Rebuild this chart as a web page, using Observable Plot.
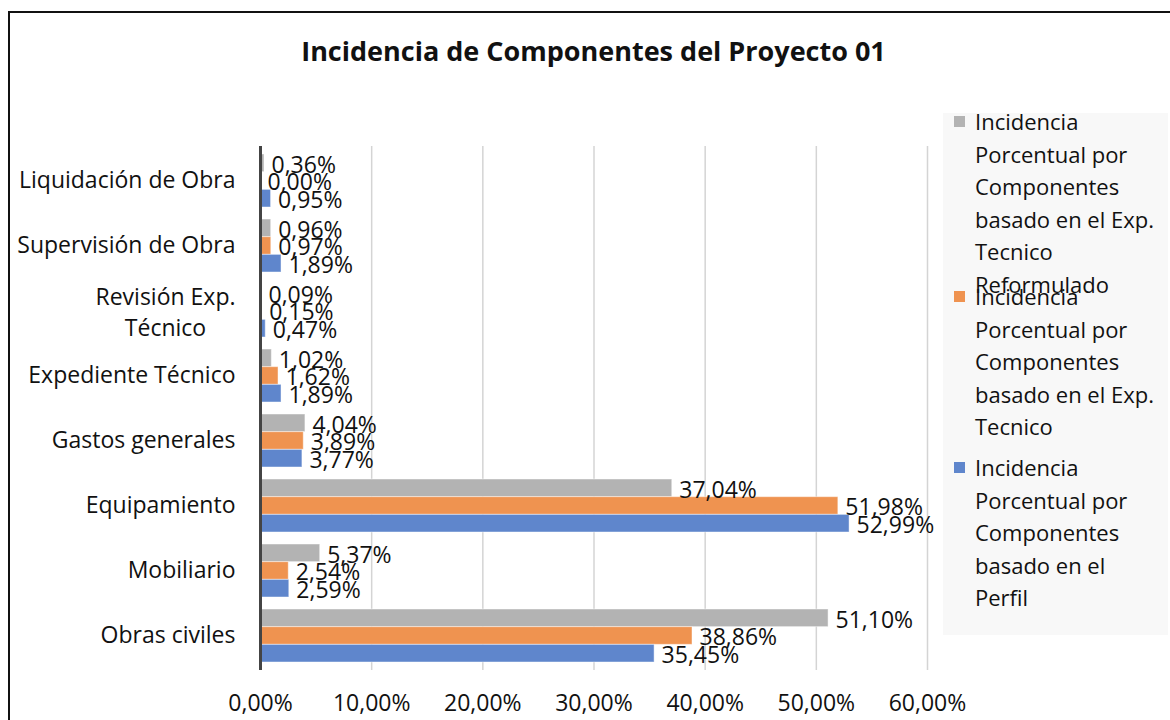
<!DOCTYPE html>
<html>
<head>
<meta charset="utf-8">
<script src="https://cdn.jsdelivr.net/npm/d3@7"></script>
<script src="https://cdn.jsdelivr.net/npm/@observablehq/plot@0.6"></script>
<style>
  html, body { margin: 0; padding: 0; background: #fff; }
  body { width: 1170px; height: 720px; position: relative; overflow: hidden; font-family: "Open Sans", sans-serif; }
  #frame { position: absolute; left: 8px; top: 11px; width: 1300px; height: 900px; border-left: 2px solid #111; border-top: 2px solid #111; }
  #title { position: absolute; left: 260px; width: 667px; top: 32px; text-align: center; font-weight: bold; font-size: 27px; color: #111; white-space: nowrap; }
  #chart { position: absolute; left: 0; top: 0; }
  #legend { position: absolute; left: 943px; top: 113px; width: 225px; height: 522px; background: #f8f8f8; }
  .item { position: absolute; left: 0; width: 225px; font-size: 22px; line-height: 32.5px; color: #111; }
  .sw { position: absolute; left: 11px; top: 11px; width: 11px; height: 11px; }
  .txt { position: absolute; left: 32px; width: 186px; }
</style>
</head>
<body>
<div id="frame"></div>
<div id="title">Incidencia de Componentes del Proyecto 01</div>
<div id="chart"></div>
<div id="legend"></div>
<script>
const categories = ["Liquidación de Obra", "Supervisión de Obra", "Revisión Exp.\nTécnico", "Expediente Técnico", "Gastos generales", "Equipamiento", "Mobiliario", "Obras civiles"];
const seriesNames = [
  "Incidencia Porcentual por Componentes basado en el Exp. Tecnico Reformulado",
  "Incidencia Porcentual por Componentes basado en el Exp. Tecnico",
  "Incidencia Porcentual por Componentes basado en el Perfil"
];
const seriesColors = ["#b3b3b3", "#ef9350", "#5f86cc"];
const reformulado = [0.0036, 0.0096, 0.0009, 0.0102, 0.0404, 0.3704, 0.0537, 0.5110];
const expTecnico  = [0.0000, 0.0097, 0.0015, 0.0162, 0.0389, 0.5198, 0.0254, 0.3886];
const perfil      = [0.0095, 0.0189, 0.0047, 0.0189, 0.0377, 0.5299, 0.0259, 0.3545];
const xTicks = [0, 0.1, 0.2, 0.3, 0.4, 0.5, 0.6];

const fmt = v => (v * 100).toFixed(2).replace(".", ",") + "%";
const seriesValues = [reformulado, expTecnico, perfil];
const tables = seriesValues.map((vals, s) => categories.map((c, i) => ({category: c, value: vals[i], series: seriesNames[s]})));

const bw = 53.05;
const h = bw / 3;
const insets = [[0, 2 * h], [h, h], [2 * h, 0]];
const dys = [-h, 0, h];

const singleLine = categories.filter(c => !c.includes("\n"));
const multiLine = categories.filter(c => c.includes("\n"));

const marks = [
  Plot.ruleX(xTicks.slice(1), {stroke: "#d4d4d4", strokeWidth: 1.5}),
];
tables.forEach((t, s) => {
  marks.push(Plot.barX(t, {
    x: "value", y: "category", fill: seriesColors[s],
    stroke: "#ffffff", strokeOpacity: 0.45, strokeWidth: 1,
    insetTop: insets[s][0], insetBottom: insets[s][1]
  }));
});
tables.forEach((t, s) => {
  marks.push(Plot.text(t, {
    x: "value", y: "category", text: d => fmt(d.value),
    textAnchor: "start", dx: 7, dy: dys[s] + 2, fontSize: 23, fill: "#111"
  }));
});
marks.push(Plot.ruleX([0], {stroke: "#444", strokeWidth: 3}));
marks.push(Plot.axisX({ticks: xTicks, tickFormat: fmt, tickSize: 0, tickPadding: 24, fontSize: 23, fill: "#111", label: null}));
marks.push(Plot.axisY({ticks: singleLine, tickSize: 0, tickPadding: 25, fontSize: 23, fill: "#111", label: null}));
marks.push(Plot.axisY({ticks: multiLine, tickSize: 0, tickPadding: 95, textAnchor: "middle", fontSize: 23, lineHeight: 1.35, fill: "#111", label: null}));

const chart = Plot.plot({
  width: 1170,
  height: 720,
  marginLeft: 260,
  marginRight: 243,
  marginTop: 146,
  marginBottom: 50,
  style: {background: "transparent", fontFamily: "'Open Sans', sans-serif", overflow: "visible"},
  x: {domain: [0, 0.6], axis: null, label: null},
  y: {domain: categories, paddingInner: 0.19, paddingOuter: 0.095, axis: null, label: null},
  marks
});
document.getElementById("chart").appendChild(chart);

const legend = document.getElementById("legend");
const tops = [-8, 167, 338];
seriesNames.forEach((name, i) => {
  const item = document.createElement("div");
  item.className = "item";
  item.style.top = tops[i] + "px";
  const sw = document.createElement("div");
  sw.className = "sw";
  sw.style.background = seriesColors[i];
  const txt = document.createElement("div");
  txt.className = "txt";
  txt.textContent = name;
  item.appendChild(sw);
  item.appendChild(txt);
  legend.appendChild(item);
});
</script>
</body>
</html>
